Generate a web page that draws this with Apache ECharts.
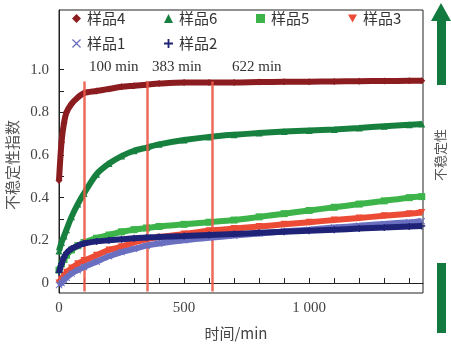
<!DOCTYPE html>
<html><head><meta charset="utf-8">
<script src="https://cdn.jsdelivr.net/npm/echarts@6/dist/echarts.min.js"></script>
<style>html,body{margin:0;padding:0;background:#fff}#c{width:451px;height:359px}</style>
</head><body><div id="c"></div>
<script>
const times = [0,10,20,30,50,75,100,150,200,250,300,350,400,500,600,700,800,900,1000,1100,1200,1300,1400,1450];
const s4 = [0.48,0.66,0.75,0.80,0.84,0.87,0.89,0.90,0.91,0.92,0.925,0.93,0.935,0.94,0.94,0.94,0.942,0.943,0.944,0.945,0.946,0.947,0.948,0.948];
const s6 = [0.15,0.19,0.22,0.25,0.31,0.37,0.42,0.51,0.56,0.595,0.62,0.635,0.65,0.67,0.685,0.695,0.703,0.71,0.715,0.72,0.727,0.735,0.742,0.745];
const s5 = [0.06,0.09,0.11,0.13,0.155,0.175,0.19,0.21,0.225,0.24,0.25,0.258,0.265,0.275,0.285,0.295,0.31,0.325,0.34,0.355,0.37,0.385,0.40,0.405];
const s3 = [0.0,0.02,0.035,0.05,0.07,0.09,0.105,0.13,0.155,0.17,0.19,0.205,0.215,0.23,0.245,0.255,0.265,0.275,0.285,0.295,0.305,0.315,0.325,0.33];
const s1 = [-0.01,0.0,0.015,0.025,0.045,0.06,0.075,0.1,0.125,0.145,0.16,0.175,0.185,0.2,0.212,0.222,0.232,0.242,0.25,0.26,0.268,0.277,0.285,0.29];
const s2 = [0.05,0.09,0.12,0.14,0.16,0.175,0.185,0.195,0.2,0.205,0.21,0.213,0.216,0.22,0.225,0.23,0.235,0.24,0.245,0.25,0.255,0.26,0.265,0.267];
const names = ['样品4','样品6','样品5','样品3','样品1','样品2'];
const xTickLabels = ['0','500','1 000'];
const markTimes = [100, 352, 612];
const markLabels = ['100 min','383 min','622 min'];

const colors = ['#8b1c1f','#17803f','#3db44a','#ec4b36','#6a6fc0','#1f2377'];
const plus = 'path://M4,0L6,0L6,4L10,4L10,6L6,6L6,10L4,10L4,6L0,6L0,4L4,4Z';
const cross = 'path://M1,0L5,4L9,0L10,1L6,5L10,9L9,10L5,6L1,10L0,9L4,5L0,1Z';
const symbols = ['diamond','triangle','rect','path://M0,0L10,0L5,9Z',cross,plus];
const vals = [s4,s6,s5,s3,s1,s2];

const chart = echarts.init(document.getElementById('c'), null, {renderer:'canvas'});
const series = names.map((n,i)=>({
  name:n, type:'line', data: times.map((t,j)=>[t, vals[i][j]]),
  symbol: symbols[i], symbolSize: 7, showSymbol:true,
  lineStyle:{color:colors[i], width:6}, itemStyle:{color:colors[i]},
  smooth:0.3, z: 2+i, animation:false
}));
series.push({
  type:'line', data:[], z:20, animation:false,
  markLine:{symbol:['none','none'], silent:true, animation:false, label:{show:false},
    lineStyle:{color:'#ec5a48', width:2.5, type:'solid', opacity:0.9},
    data: markTimes.map(t=>[{coord:[t,-0.04]},{coord:[t,0.945]}])}
});
const serif = '"Liberation Serif", "Noto Sans CJK SC", serif';
const legends = names.map((n,i)=>({
  data:[{name:n, icon: symbols[i]}], left: 72 + (i%4)*92, top: i<4 ? 11 : 36,
  itemWidth: 9, itemHeight: 9, itemGap: 0, padding:0,
  textStyle:{fontSize:15, color:'#333', fontFamily:'"Noto Sans CJK SC"', padding:[0,0,0,1]}
}));
chart.setOption({
  animation:false,
  backgroundColor:'#fff',
  grid:{left:59, right:28, top:10, bottom:66, show:true, borderColor:'#222', borderWidth:1},
  legend: legends,
  xAxis:{type:'value', min:0, max:1455,
    axisLine:{show:true, lineStyle:{color:'#222'}},
    axisTick:{show:true, inside:true, length:5, lineStyle:{color:'#222'}, customValues:[0,100,200,300,400,500,600,700,800,900,1000,1100,1200,1300,1400]},
    axisLabel:{customValues:[0,500,1000], formatter:v=>xTickLabels[Math.round(v/500)], fontSize:15, color:'#444', fontFamily:serif, margin:8},
    splitLine:{show:false},
    name:'时间/min', nameLocation:'middle', nameGap:33, nameTextStyle:{fontSize:15, color:'#444', fontFamily:'"Noto Sans CJK SC"', padding:[0,0,0,-10]}
  },
  yAxis:{type:'value', min:-0.047, max:1.28,
    axisLine:{show:true, lineStyle:{color:'#222'}},
    axisTick:{show:true, inside:true, length:5, lineStyle:{color:'#222'}, customValues:[0,0.1,0.2,0.3,0.4,0.5,0.6,0.7,0.8,0.9,1.0]},
    axisLabel:{customValues:[0,0.2,0.4,0.6,0.8,1.0], formatter:v=> v===0?'0':v.toFixed(1), fontSize:15, color:'#444', fontFamily:serif, margin:10},
    splitLine:{show:false}
  },
  graphic:[
    {type:'text', rotation:Math.PI/2, x:5, y:210, style:{text:'不稳定性指数', fontSize:15, fill:'#555', fontFamily:'"Noto Sans CJK SC"'}},
    ...markLabels.map((t,i)=>({type:'text', x:[89,152,232][i], y:60, style:{text:t, fontSize:15, fill:'#333', fontFamily:serif}})),
    {type:'polygon', shape:{points:[[441,3],[451,21],[431,21]]}, style:{fill:'#127a3e'}},
    {type:'rect', shape:{x:437, y:20, width:9, height:65}, style:{fill:'#127a3e'}},
    {type:'rect', shape:{x:437, y:263, width:9, height:70}, style:{fill:'#127a3e'}},
    {type:'text', x:434, y:181, rotation:Math.PI/2, style:{text:'不稳定性', fontSize:13, fill:'#555', fontFamily:'"Noto Sans CJK SC"'}}
  ],
  series
});
</script></body></html>
